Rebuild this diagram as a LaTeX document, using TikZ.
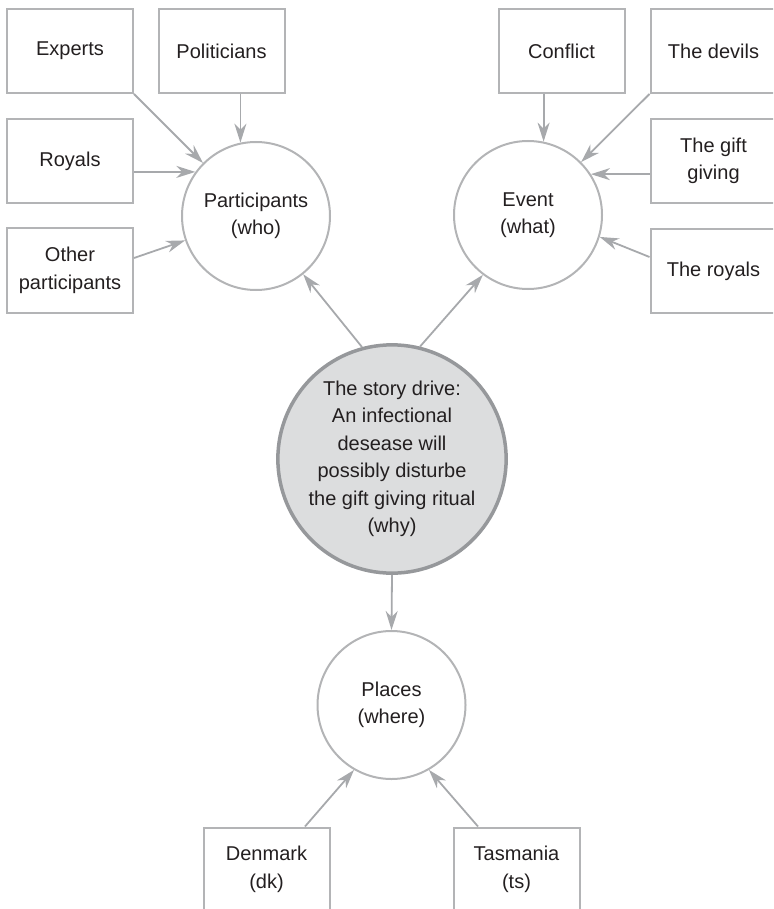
\documentclass[tikz,border=0pt]{standalone}
\usepackage{fontspec}
\setmainfont{Liberation Sans}
\usetikzlibrary{arrows.meta}
\definecolor{txt}{HTML}{231F20}
\definecolor{boxgray}{HTML}{B3B4B6}
\definecolor{arrgray}{HTML}{A7A9AC}
\definecolor{cgray}{HTML}{96989B}
\definecolor{cfill}{HTML}{DCDDDE}
\begin{document}
\begin{tikzpicture}[x=1pt,y=-1pt,
  every node/.style={text=txt,font=\fontsize{20}{27.5}\selectfont,align=center},
  leaf/.style={draw=boxgray,line width=2pt,minimum width=126pt,minimum height=84pt,inner sep=0pt},
  topic/.style={circle,draw=boxgray,line width=2pt,minimum size=148pt,inner sep=0pt},
  core/.style={circle,draw=cgray,fill=cfill,line width=3.5pt,minimum size=228pt,inner sep=0pt},
  arr/.style={draw=arrgray,line width=1.8pt,-{Stealth[length=19pt,width=12pt,inset=6pt]}}
]
\useasboundingbox (0,0) rectangle (773,909);
\clip (0,0) rectangle (773,909);
% circles
\node[topic] (part) at (256,216) {Participants\\(who)};
\node[topic] (event) at (528,215) {Event\\(what)};
\node[core] (story) at (392,459) {The story drive:\\An infectional\\desease will\\possibly disturbe\\the gift giving ritual\\(why)};
\node[topic] (places) at (391.5,705) {Places\\(where)};
% boxes
\node[leaf] (experts) at (70,51) {Experts};
\node[leaf] (pol) at (221.5,51) {Politicians};
\node[leaf] (royals) at (70,161.5) {Royals};
\node[leaf] (other) at (70,270.5) {Other\\participants};
\node[leaf] (conflict) at (561.5,51) {Conflict};
\node[leaf] (devils) at (713.5,51) {The devils};
\node[leaf] (gift) at (713.5,161) {The gift\\giving};
\node[leaf] (royals2) at (713.5,271) {The royals};
\node[leaf] (denmark) at (266.5,869.5) {Denmark\\(dk)};
\node[leaf] (tasmania) at (516.5,869.5) {Tasmania\\(ts)};
% arrows into Participants
\draw[arr] (experts.south east) -- (part);
\draw[arr] (pol.south -| part.102.5) -- (part.102.5);
\draw[arr] (royals.east |- part.144.5) -- (part.144.5);
\draw[arr] ([yshift=12.5pt]other.east) -- (part.199);
% arrows into Event
\draw[arr] (conflict.south -| event.78.5) -- (event.78.5);
\draw[arr] (devils.south west) -- (event);
\draw[arr] (gift.west |- event.33) -- (event.33);
\draw[arr] ([yshift=14pt]royals2.west) -- (event.-17);
% arrows from the core
\draw[arr] (story.105) -- (part.-51);
\draw[arr] (story.76) -- (event.233);
\draw[arr] (story.south) -- (places.north);
% arrows into Places
\draw[arr] ([xshift=38.5pt]denmark.north) -- (places.240);
\draw[arr] ([xshift=-38.5pt]tasmania.north) -- (places.300);
\end{tikzpicture}
\end{document}
